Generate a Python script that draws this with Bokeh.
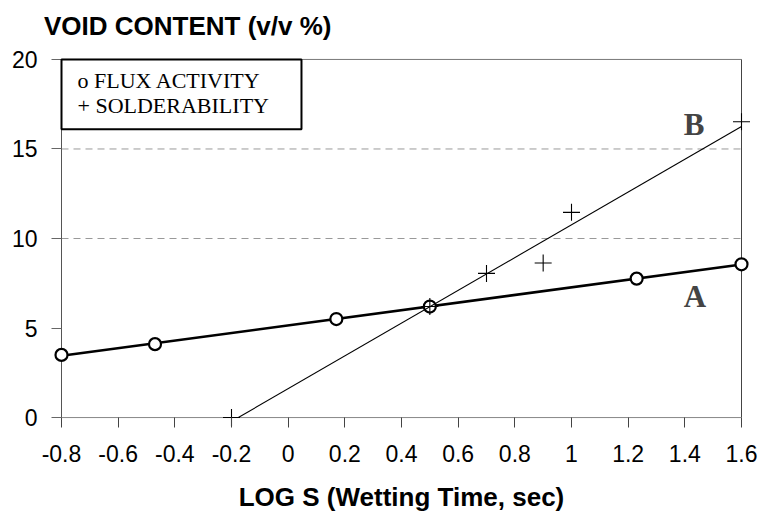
import numpy as np
from bokeh.plotting import figure
from bokeh.models import Range1d, FixedTicker, BoxAnnotation, Label
from bokeh.embed import file_html
from bokeh.resources import INLINE

# ---- data ----
flux_x = [-0.8, -0.47, 0.17, 0.5, 1.23, 1.6]
flux_y = [3.5, 4.1, 5.5, 6.2, 7.76, 8.56]
sold_x = [-0.2, 0.5, 0.7, 0.9, 1.0, 1.6]
sold_y = [0.0, 6.2, 8.05, 8.63, 11.46, 16.52]
x_ticks = [-0.8, -0.6, -0.4, -0.2, 0, 0.2, 0.4, 0.6, 0.8, 1.0, 1.2, 1.4, 1.6]
x_tick_labels = ["-0.8", "-0.6", "-0.4", "-0.2", "0", "0.2", "0.4", "0.6", "0.8", "1", "1.2", "1.4", "1.6"]
y_ticks = [0, 5, 10, 15, 20]
grid_y = [10, 15]
legend_lines = ["o FLUX ACTIVITY", "+ SOLDERABILITY"]
x_lo, x_hi = -0.8, 1.6
y_lo, y_hi = 0, 20

SANS = "Liberation Sans"
SERIF = "Liberation Serif"

# frame is padded by 10 px on every side so edge markers are not clipped
PAD = 10
fw, fh = 680, 360
xpad = PAD * (x_hi - x_lo) / fw
ypad = PAD * (y_hi - y_lo) / fh

p = figure(width=761, height=514, output_backend="svg", toolbar_location=None,
           x_range=Range1d(x_lo - xpad, x_hi + xpad),
           y_range=Range1d(y_lo - ypad, y_hi + ypad),
           min_border_left=61 - PAD, min_border_right=20 - PAD,
           min_border_top=58 - PAD, min_border_bottom=96 - PAD,
           background_fill_color="white", border_fill_color="white")
p.outline_line_color = None
p.xgrid.visible = False
p.ygrid.visible = False

p.title.text = "VOID CONTENT (v/v %)"
p.title.text_font = SANS
p.title.text_font_style = "bold"
p.title.text_font_size = "26px"
p.title.text_color = "black"
p.title.align = "right"
p.title.offset = 420
p.title.standoff = 17

# x axis (ticks drawn inward from the padded frame edge up to y = 0)
xa = p.xaxis[0]
xa.ticker = FixedTicker(ticks=x_ticks)
xa.major_label_overrides = {t: l for t, l in zip(x_ticks, x_tick_labels)}
xa.major_label_text_font = SANS
xa.major_label_text_font_size = "23px"
xa.major_label_text_color = "black"
xa.major_label_standoff = 17
xa.major_tick_in = PAD
xa.major_tick_out = 0
xa.minor_tick_in = 0
xa.minor_tick_out = 0
xa.axis_line_color = None
xa.major_tick_line_color = "#444444"
xa.axis_label = "LOG S (Wetting Time, sec)"
xa.axis_label_text_font = SANS
xa.axis_label_text_font_style = "bold"
xa.axis_label_text_font_size = "26px"
xa.axis_label_text_color = "black"
xa.axis_label_standoff = 17

# y axis
ya = p.yaxis[0]
ya.ticker = FixedTicker(ticks=y_ticks)
ya.major_label_text_font = SANS
ya.major_label_text_font_size = "23px"
ya.major_label_text_color = "black"
ya.major_label_standoff = 14
ya.major_tick_in = PAD
ya.major_tick_out = 0
ya.minor_tick_in = 0
ya.minor_tick_out = 0
ya.axis_line_color = None
ya.major_tick_line_color = "#666666"

# frame lines and gridlines
p.segment(x0=[x_lo] * len(grid_y), y0=grid_y, x1=[x_hi] * len(grid_y), y1=grid_y,
          line_color="#999999", line_width=1, line_dash="7 5")
p.segment(x0=[x_lo], y0=[y_hi], x1=[x_hi], y1=[y_hi], line_color="#777777", line_width=1)
p.segment(x0=[x_hi], y0=[y_lo], x1=[x_hi], y1=[y_hi], line_color="#444444", line_width=1)
p.segment(x0=[x_lo], y0=[y_lo], x1=[x_hi], y1=[y_lo], line_color="#888888", line_width=1)
p.segment(x0=[x_lo], y0=[y_lo], x1=[x_lo], y1=[y_hi], line_color="#555555", line_width=1)

# trend lines (least-squares fits of the data)
ka, ba = np.polyfit(flux_x, flux_y, 1)
kb, bb = np.polyfit(sold_x, sold_y, 1)
la_x = [min(flux_x), max(flux_x)]
la_y = [ka * v + ba for v in la_x]
x0b = -bb / kb
lb_x = [x0b, max(sold_x)]
lb_y = [kb * v + bb for v in lb_x]

p.line(la_x, la_y, line_color="black", line_width=2.6)
p.scatter(flux_x, flux_y, marker="circle", size=12, line_color="black",
          line_width=2.2, fill_color="white")
p.line(lb_x, lb_y, line_color="black", line_width=1.1)
p.scatter(sold_x, sold_y, marker="cross", size=17, line_color="black", line_width=1.1)

# legend box
box = BoxAnnotation(left=x_lo, right=0.047, top=y_hi, bottom=16.1,
                    fill_color="white", fill_alpha=1.0,
                    line_color="black", line_alpha=1.0, line_width=2)
p.add_layout(box)
for i, txt in enumerate(legend_lines):
    p.add_layout(Label(x=-0.7435, y=[18.83, 17.44][i], text=txt,
                       text_font=SERIF, text_font_size="22px", text_color="black",
                       text_baseline="alphabetic"))

# series labels
p.add_layout(Label(x=1.396, y=16.39, text="B", text_font=SERIF, text_font_style="bold",
                   text_font_size="31px", text_baseline="alphabetic"))
p.add_layout(Label(x=1.396, y=6.76, text="A", text_font=SERIF, text_font_style="bold",
                   text_font_size="31px", text_baseline="alphabetic"))

open("out.html", "w").write(file_html(p, INLINE))
